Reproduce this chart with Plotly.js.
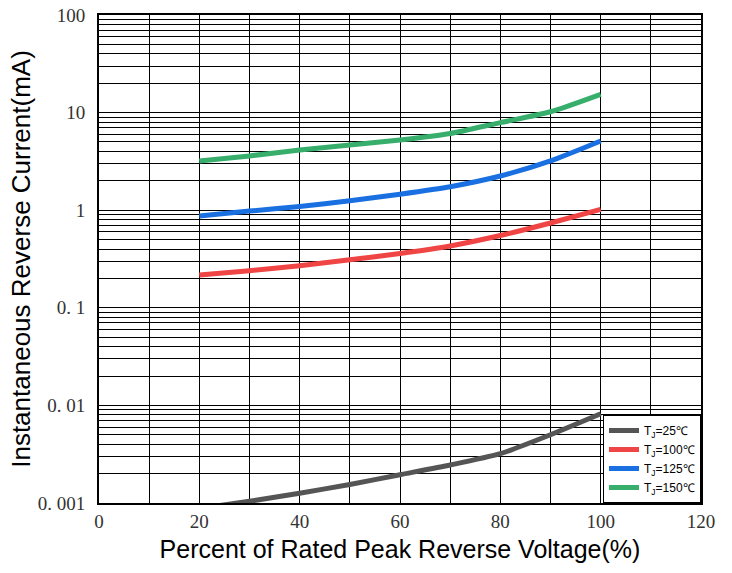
<!DOCTYPE html>
<html>
<head>
<meta charset="utf-8">
<script src="https://cdn.plot.ly/plotly-3.0.1.min.js"></script>
<style>html,body{margin:0;padding:0;background:#fff;}#chart{width:732px;height:573px;}</style>
</head>
<body>
<div id="chart"></div>
<script>
// Percent of rated peak reverse voltage
const voltagePct = [20, 30, 40, 50, 60, 70, 80, 90, 100];
// Instantaneous reverse current (mA)
const current25  = [0.00088, 0.00104, 0.00126, 0.00155, 0.00195, 0.00245, 0.0032, 0.0050, 0.0082];
const current100 = [0.217, 0.24, 0.27, 0.31, 0.36, 0.43, 0.55, 0.74, 1.02];
const current125 = [0.87, 0.98, 1.09, 1.25, 1.46, 1.74, 2.24, 3.2, 5.12];
const current150 = [3.2, 3.6, 4.14, 4.66, 5.24, 6.1, 7.9, 10.2, 15.4];

const seriesNames = ['T<sub>J</sub>=25℃', 'T<sub>J</sub>=100℃', 'T<sub>J</sub>=125℃', 'T<sub>J</sub>=150℃'];
const seriesColors = ['#555555', '#F04545', '#1A70E0', '#37AE6C'];

const yTickVals = [0.001, 0.01, 0.1, 1, 10, 100];
const yTickText = ['0. 001', '0. 01', '0. 1', '1', '10', '100'];
const xTickVals = [0, 20, 40, 60, 80, 100, 120];
const xTickText = ['0', '20', '40', '60', '80', '100', '120'];

const yMinor = [];
for (let d = -3; d < 2; d++) {
  for (let m = 2; m <= 9; m++) yMinor.push(m * Math.pow(10, d));
}

const allY = [current25, current100, current125, current150];
const traces = allY.map((ys, i) => ({
  x: voltagePct,
  y: ys,
  type: 'scatter',
  mode: 'lines',
  name: seriesNames[i],
  line: {color: seriesColors[i], width: 5, shape: 'spline', smoothing: 0.6},
  cliponaxis: true
}));

const layout = {
  width: 732,
  height: 573,
  margin: {l: 99, r: 31, t: 15, b: 70},
  paper_bgcolor: '#ffffff',
  plot_bgcolor: '#ffffff',
  showlegend: true,
  legend: {
    x: 1, xanchor: 'right', y: 0, yanchor: 'bottom',
    bgcolor: '#ffffff', bordercolor: '#000000', borderwidth: 1,
    font: {family: 'Liberation Sans, Arial, sans-serif', size: 12, color: '#000'},
    tracegroupgap: 0
  },
  xaxis: {
    range: [0, 120],
    tickmode: 'array', tickvals: xTickVals, ticktext: xTickText,
    showgrid: true, gridcolor: '#000000', gridwidth: 1,
    minor: {dtick: 10, showgrid: true, gridcolor: '#000000', gridwidth: 1},
    zeroline: false,
    showline: true, linecolor: '#000000', linewidth: 2, mirror: true,
    ticks: '',
    tickfont: {family: 'Liberation Serif, Times New Roman, serif', size: 19, color: '#333'},
    title: {text: 'Percent of Rated Peak Reverse Voltage(%)', standoff: 10,
            font: {family: 'Liberation Sans, Arial, sans-serif', size: 25, color: '#000'}}
  },
  yaxis: {
    type: 'log',
    range: [-3, 2],
    tickmode: 'array', tickvals: yTickVals, ticktext: yTickText,
    showgrid: true, gridcolor: '#000000', gridwidth: 1,
    minor: {tickmode: 'array', tickvals: yMinor, showgrid: true, gridcolor: '#000000', gridwidth: 1, ticks: ''},
    zeroline: false,
    showline: true, linecolor: '#000000', linewidth: 2, mirror: true,
    ticks: '',
    ticklabelstandoff: 8,
    tickfont: {family: 'Liberation Serif, Times New Roman, serif', size: 19, color: '#333'},
    title: {text: 'Instantaneous Reverse Current(mA)', standoff: 0,
            font: {family: 'Liberation Sans, Arial, sans-serif', size: 26, color: '#000'}}
  }
};

Plotly.newPlot('chart', traces, layout, {displayModeBar: false, staticPlot: true});
</script>
</body>
</html>
